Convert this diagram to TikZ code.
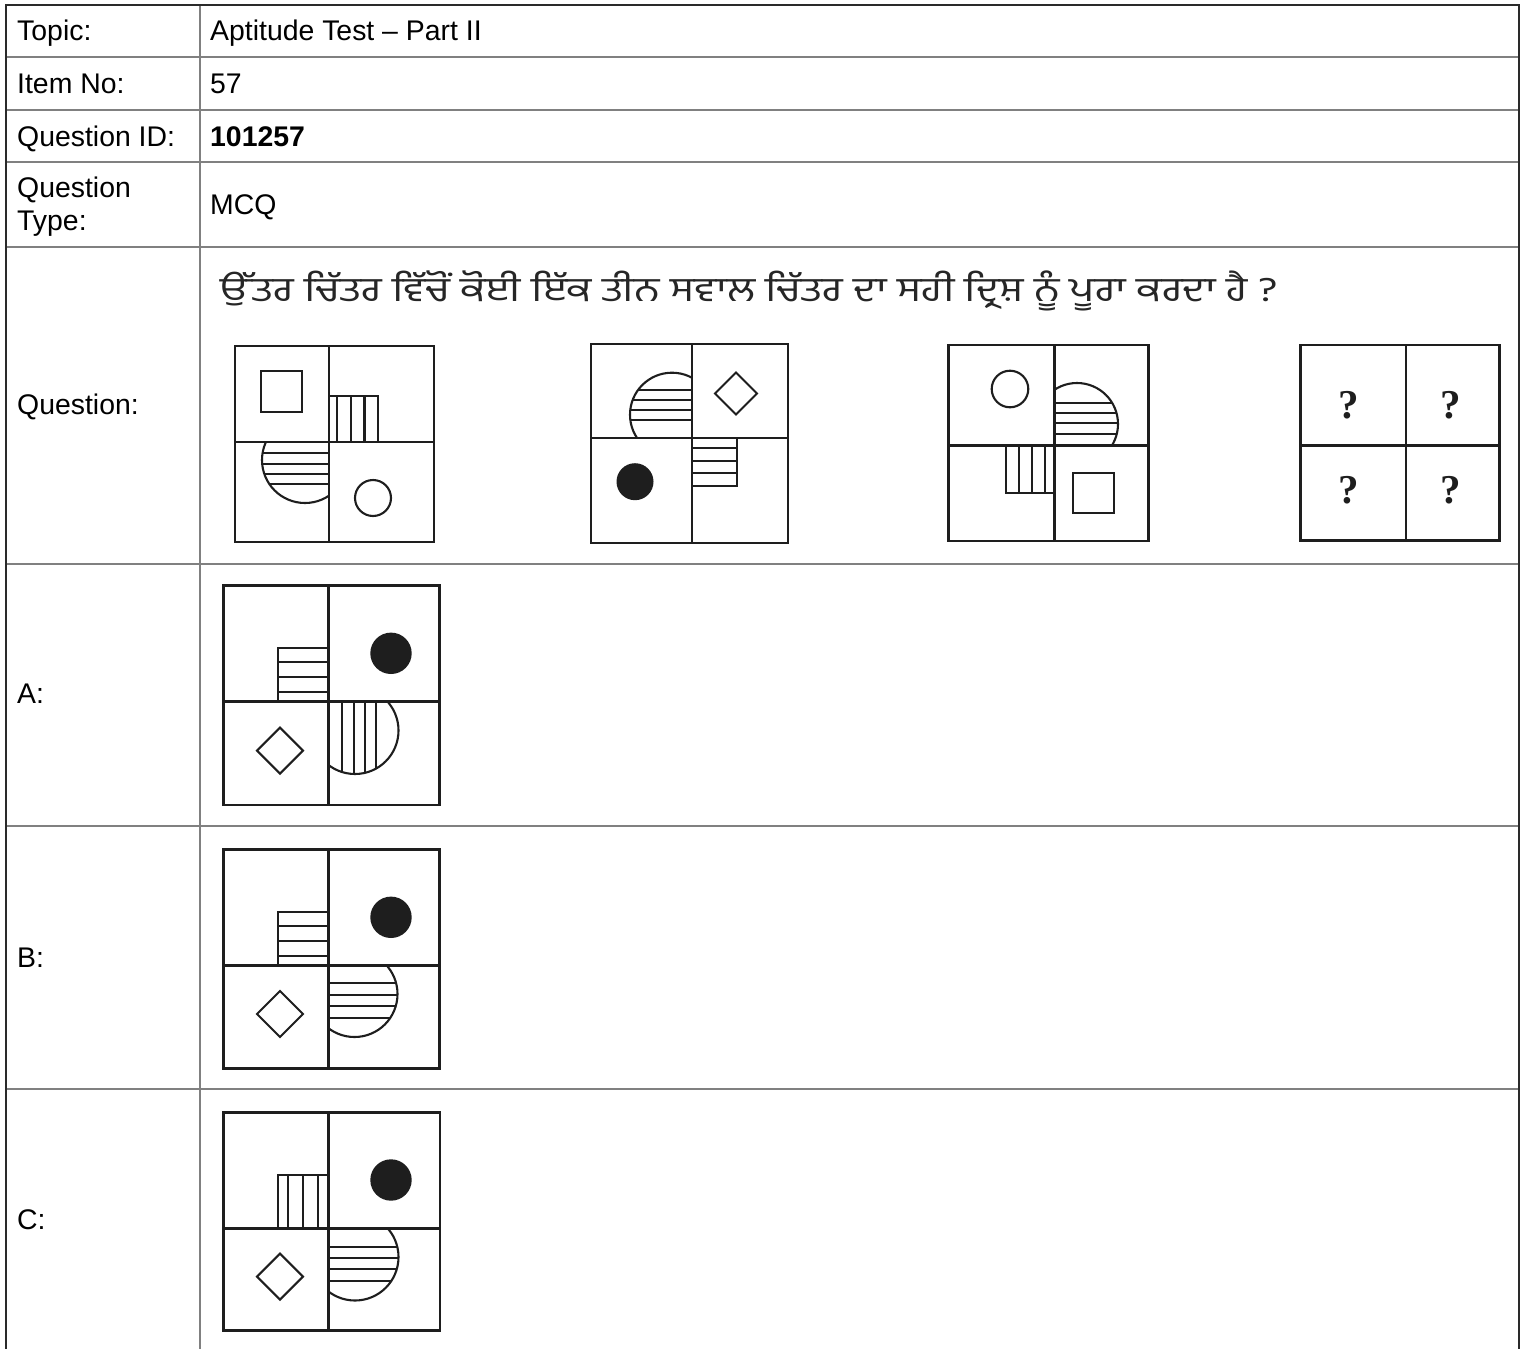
\documentclass[tikz,border=0pt]{standalone}
\usepackage{graphicx}
\usepackage{fontspec}
\setmainfont{Liberation Sans}
\newfontfamily\guru[Script=Gurmukhi]{Hind Jalandhar}
\newfontfamily\qserif{Liberation Serif}
\definecolor{gridgray}{HTML}{808080}
\definecolor{outergray}{HTML}{2A2A2A}
\definecolor{figink}{HTML}{1E1E1E}
\newcommand\quadfig[6]{%
  \draw[frm] (#1,#2) rectangle (#3,#4);
  \draw[frm] (#5,#2) -- (#5,#4);
  \draw[frm] (#1,#6) -- (#3,#6);}
\newcommand\dia[3]{\draw[shp] (#1-#3,#2) -- (#1,#2-#3) -- (#1+#3,#2) -- (#1,#2+#3) -- cycle;}
\begin{document}
\begin{tikzpicture}[x=1pt,y=-1pt,
  gridl/.style={line width=1.8pt, draw=gridgray},
  outer/.style={line width=2.4pt, draw=outergray},
  frm/.style={line width=2.6pt, draw=figink},
  shp/.style={line width=2.1pt, draw=figink},
  lbl/.style={anchor=base west, inner sep=0pt, font=\fontsize{28.4}{33}\selectfont, text=black},
  qm/.style={font=\qserif\bfseries\fontsize{41}{41}\selectfont, inner sep=0pt, text=figink},
]
\useasboundingbox (0,0) rectangle (1524,1349);
\fill[white] (0,0) rectangle (1524,1349);
% table grid
\draw[gridl] (200,5) -- (200,1349);
\foreach \yy in {57,110,162,247,564,826,1089}{\draw[gridl] (6,\yy) -- (1519,\yy);}
\draw[outer] (6,1349) -- (6,5) -- (1519,5) -- (1519,1349);
% labels
\node[lbl] (l1) at (17,40) {Topic:};
\node[lbl] (v1) at (210,40) {Aptitude Test – Part II};
\node[lbl] (l2) at (17,93.5) {Item No:};
\node[lbl] (v2) at (210,93.5) {57};
\node[lbl] (l3) at (17,146) {Question ID:};
\node[lbl] (v3) at (210,146) {\bfseries 101257};
\node[lbl] (l4a) at (17,197) {Question};
\node[lbl] (l4b) at (17,230) {Type:};
\node[lbl] (v4) at (210,214) {MCQ};
\node[lbl] (l5) at (17,414) {Question:};
\node[lbl] (lA) at (17,703) {A:};
\node[lbl] (lB) at (17,967) {B:};
\node[lbl] (lC) at (17,1229) {C:};
\node[anchor=base west, inner sep=0pt, font=\guru\fontsize{34}{38}\selectfont, text=black!85] (qtext) at (220,301)
  {\scalebox{1.245}[1]{ਉੱਤਰ ਚਿੱਤਰ ਵਿੱਚੋਂ ਕੋਈ ਇੱਕ ਤੀਨ ਸਵਾਲ ਚਿੱਤਰ ਦਾ ਸਹੀ ਦ੍ਰਿਸ਼ ਨੂੰ ਪੂਰਾ ਕਰਦਾ ਹੈ ?}};
% ---------- Figure 1
\draw[shp] (261,371) rectangle (302,412);
\draw[shp] (329,396) rectangle (378,442);
\foreach \xx in {337,351,364.5}{\draw[shp] (\xx,396) -- (\xx,442);}
\begin{scope}
  \clip (235,442) rectangle (329,542);
  \draw[shp] (305,460) circle[radius=43pt];
  \clip (305,460) circle[radius=43pt];
  \foreach \yy in {453.3,464,474.3,484.3}{\draw[shp] (235,\yy) -- (329,\yy);}
\end{scope}
\draw[shp] (373,498) circle[radius=18pt];
\quadfig{235}{346}{434}{542}{329}{442}
% ---------- Figure 2
\begin{scope}
  \clip (591,344) rectangle (692,438);
  \draw[shp] (672,414.7) circle[radius=42pt];
  \clip (672,414.7) circle[radius=42pt];
  \foreach \yy in {390,400.3,410.3,420}{\draw[shp] (591,\yy) -- (692,\yy);}
\end{scope}
\dia{736}{393.5}{21}
\fill[figink] (635,481.7) circle[radius=18.5pt];
\draw[shp] (692,438) rectangle (737.3,485.7);
\foreach \yy in {448.3,460.7,473.3}{\draw[shp] (692,\yy) -- (737.3,\yy);}
\quadfig{591}{344}{788}{543}{692}{438}
% ---------- Figure 3
\draw[shp] (1010,389) circle[radius=18.3pt];
\begin{scope}
  \clip (1054.3,345) rectangle (1148.3,445.7);
  \draw[shp] (1077,424) circle[radius=41pt];
  \clip (1077,424) circle[radius=41pt];
  \foreach \yy in {402.7,413.3,423.3,434}{\draw[shp] (1054.3,\yy) -- (1148.3,\yy);}
\end{scope}
\draw[shp] (1006,445.7) rectangle (1054.3,492.7);
\foreach \xx in {1019,1031.7,1045}{\draw[shp] (\xx,445.7) -- (\xx,492.7);}
\draw[shp] (1073.3,473.3) rectangle (1114.3,513.3);
\quadfig{948.3}{345}{1148.3}{541}{1054.3}{445.7}
% ---------- Figure 4
\quadfig{1300.7}{345}{1499.3}{540.7}{1406}{445.7}
\node[qm] (q1) at (1348.3,405) {?};
\node[qm] (q2) at (1451,405) {?};
\node[qm] (q3) at (1348.3,490) {?};
\node[qm] (q4) at (1451,490) {?};
% ---------- Option A
\draw[shp] (277.7,647.7) rectangle (328.3,701.7);
\foreach \yy in {662.3,677.3,691.7}{\draw[shp] (277.7,\yy) -- (328.3,\yy);}
\fill[figink] (391,653.3) circle[radius=20.7pt];
\dia{280}{750.7}{23}
\begin{scope}
  \clip (328.3,701.7) rectangle (439.3,805);
  \draw[shp] (355,730.5) circle[radius=43.5pt];
  \clip (355,730.5) circle[radius=43.5pt];
  \foreach \xx in {341.7,354,365,376}{\draw[shp] (\xx,701.7) -- (\xx,805);}
\end{scope}
\quadfig{223.3}{585.7}{439.3}{805}{328.3}{701.7}
% ---------- Option B
\draw[shp] (277.7,911.7) rectangle (328.3,965.7);
\foreach \yy in {926,940.7,955.7}{\draw[shp] (277.7,\yy) -- (328.3,\yy);}
\fill[figink] (391,917.3) circle[radius=20.7pt];
\dia{280}{1014}{23}
\begin{scope}
  \clip (328.3,965.7) rectangle (439.3,1068.3);
  \draw[shp] (354.5,994) circle[radius=43pt];
  \clip (354.5,994) circle[radius=43pt];
  \foreach \yy in {983.3,995,1006,1017.7}{\draw[shp] (328.3,\yy) -- (439.3,\yy);}
\end{scope}
\quadfig{223.3}{849.3}{439.3}{1068.3}{328.3}{965.7}
% ---------- Option C
\draw[shp] (277.7,1175) rectangle (328.3,1228.3);
\foreach \xx in {288.3,303.3,317.7}{\draw[shp] (\xx,1175) -- (\xx,1228.3);}
\fill[figink] (391,1180) circle[radius=20.7pt];
\dia{280}{1276.7}{23}
\begin{scope}
  \clip (328.3,1228.3) rectangle (440,1330.7);
  \draw[shp] (355,1257) circle[radius=43.5pt];
  \clip (355,1257) circle[radius=43.5pt];
  \foreach \yy in {1246.7,1257.7,1269.3,1281}{\draw[shp] (328.3,\yy) -- (440,\yy);}
\end{scope}
\quadfig{223.3}{1112.7}{440}{1330.7}{328.3}{1228.3}
\end{tikzpicture}
\end{document}
